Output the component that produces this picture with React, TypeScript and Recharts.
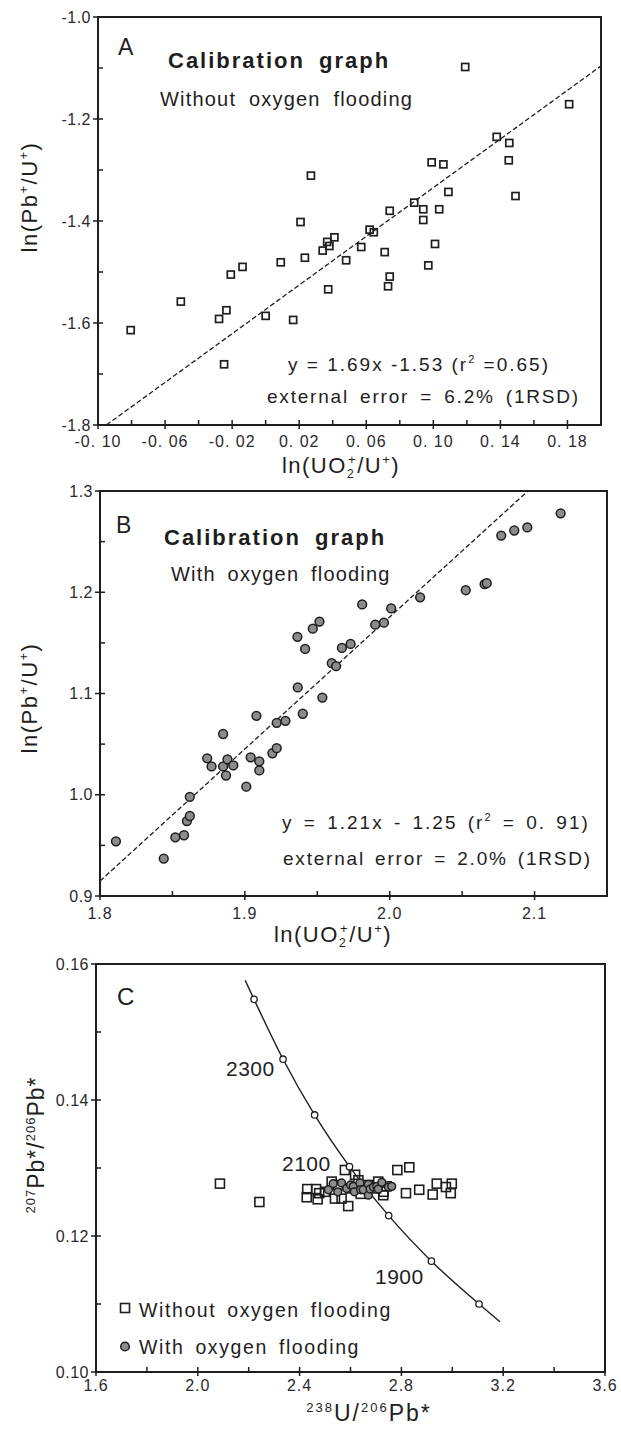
import React from 'react';
import {
  ScatterChart,
  ComposedChart,
  Scatter,
  Line,
  XAxis,
  YAxis,
  ReferenceLine,
  ReferenceArea,
  Customized,
} from 'recharts';

const FONT = '"Liberation Sans", Arial, Helvetica, sans-serif';
const INK = '#1e1e1e';
const TICK_INK = '#2a2a2a';

// ---------------- Panel A: without oxygen flooding ----------------
const withoutO2A = [
  { x: -0.0805, y: -1.614 }, { x: -0.0506, y: -1.558 }, { x: -0.0278, y: -1.592 },
  { x: -0.0234, y: -1.575 }, { x: -0.0248, y: -1.681 }, { x: -0.0208, y: -1.505 },
  { x: -0.0138, y: -1.49 }, { x: 0.0, y: -1.586 }, { x: 0.009, y: -1.481 },
  { x: 0.0164, y: -1.594 }, { x: 0.0234, y: -1.472 }, { x: 0.0208, y: -1.402 },
  { x: 0.027, y: -1.311 }, { x: 0.034, y: -1.458 }, { x: 0.0367, y: -1.441 },
  { x: 0.038, y: -1.449 }, { x: 0.041, y: -1.432 }, { x: 0.048, y: -1.477 },
  { x: 0.0373, y: -1.534 }, { x: 0.057, y: -1.451 }, { x: 0.062, y: -1.417 },
  { x: 0.0645, y: -1.422 }, { x: 0.071, y: -1.461 }, { x: 0.074, y: -1.38 },
  { x: 0.074, y: -1.509 }, { x: 0.073, y: -1.528 }, { x: 0.0886, y: -1.364 },
  { x: 0.094, y: -1.377 }, { x: 0.094, y: -1.398 }, { x: 0.1035, y: -1.377 },
  { x: 0.097, y: -1.487 }, { x: 0.101, y: -1.445 }, { x: 0.099, y: -1.285 },
  { x: 0.106, y: -1.289 }, { x: 0.109, y: -1.343 }, { x: 0.119, y: -1.098 },
  { x: 0.1378, y: -1.235 }, { x: 0.1453, y: -1.247 }, { x: 0.145, y: -1.281 },
  { x: 0.149, y: -1.351 }, { x: 0.181, y: -1.171 },
];
const fitLineA = [{ x: -0.095, y: -1.8 }, { x: 0.2, y: -1.096 }];
const xDomainA = [-0.1, 0.2];
const yDomainA = [-1.8, -1.0];
const xMajorA = [-0.1, -0.06, -0.02, 0.02, 0.06, 0.1, 0.14, 0.18];
const xTickLabelsA = ['-0. 10', '-0. 06', '-0. 02', '0. 02', '0. 06', '0. 10', '0. 14', '0. 18'];
const xMinorA = [-0.08, -0.04, 0.0, 0.04, 0.08, 0.12, 0.16];
const yMajorA = [-1.8, -1.6, -1.4, -1.2, -1.0];
const yTickLabelsA = ['-1.8', '-1.6', '-1.4', '-1.2', '-1.0'];
const yMinorA = [-1.7, -1.5, -1.3, -1.1];

// ---------------- Panel B: with oxygen flooding ----------------
const withO2B = [
  { x: 1.811, y: 0.954 }, { x: 1.844, y: 0.937 }, { x: 1.852, y: 0.958 },
  { x: 1.858, y: 0.96 }, { x: 1.86, y: 0.974 }, { x: 1.862, y: 0.979 },
  { x: 1.862, y: 0.998 }, { x: 1.874, y: 1.036 }, { x: 1.877, y: 1.028 },
  { x: 1.885, y: 1.06 }, { x: 1.885, y: 1.028 }, { x: 1.888, y: 1.035 },
  { x: 1.887, y: 1.019 }, { x: 1.892, y: 1.029 }, { x: 1.901, y: 1.008 },
  { x: 1.904, y: 1.037 }, { x: 1.908, y: 1.078 }, { x: 1.91, y: 1.033 },
  { x: 1.91, y: 1.024 }, { x: 1.919, y: 1.041 }, { x: 1.922, y: 1.046 },
  { x: 1.922, y: 1.071 }, { x: 1.928, y: 1.073 }, { x: 1.94, y: 1.08 },
  { x: 1.9535, y: 1.096 }, { x: 1.9365, y: 1.106 }, { x: 1.9363, y: 1.156 },
  { x: 1.9416, y: 1.144 }, { x: 1.9469, y: 1.164 }, { x: 1.9515, y: 1.171 },
  { x: 1.96, y: 1.13 }, { x: 1.963, y: 1.127 }, { x: 1.967, y: 1.145 },
  { x: 1.973, y: 1.149 }, { x: 1.981, y: 1.188 }, { x: 1.99, y: 1.168 },
  { x: 1.996, y: 1.17 }, { x: 2.001, y: 1.184 }, { x: 2.021, y: 1.195 },
  { x: 2.0525, y: 1.202 }, { x: 2.0655, y: 1.208 }, { x: 2.067, y: 1.209 },
  { x: 2.077, y: 1.256 }, { x: 2.086, y: 1.261 }, { x: 2.095, y: 1.264 },
  { x: 2.118, y: 1.278 },
];
const fitLineB = [{ x: 1.8, y: 0.9148 }, { x: 2.0954, y: 1.3 }];
const xDomainB = [1.8, 2.15];
const yDomainB = [0.9, 1.3];
const xMajorB = [1.8, 1.9, 2.0, 2.1];
const xTickLabelsB = ['1.8', '1.9', '2.0', '2.1'];
const xMinorB = [1.85, 1.95, 2.05];
const yMajorB = [0.9, 1.0, 1.1, 1.2, 1.3];
const yTickLabelsB = ['0.9', '1.0', '1.1', '1.2', '1.3'];
const yMinorB = [0.95, 1.05, 1.15, 1.25];

// ---------------- Panel C: Tera-Wasserburg concordia ----------------
const withoutO2C = [
  { x: 2.087, y: 0.1277 }, { x: 2.242, y: 0.125 }, { x: 2.428, y: 0.1257 },
  { x: 2.43, y: 0.1269 }, { x: 2.465, y: 0.1269 }, { x: 2.471, y: 0.1254 },
  { x: 2.477, y: 0.1263 }, { x: 2.5, y: 0.1265 }, { x: 2.526, y: 0.128 },
  { x: 2.539, y: 0.1255 }, { x: 2.55, y: 0.1275 }, { x: 2.565, y: 0.1255 },
  { x: 2.578, y: 0.1297 }, { x: 2.591, y: 0.1244 }, { x: 2.6, y: 0.127 },
  { x: 2.618, y: 0.129 }, { x: 2.631, y: 0.1282 }, { x: 2.64, y: 0.1262 },
  { x: 2.67, y: 0.1275 }, { x: 2.7, y: 0.127 }, { x: 2.709, y: 0.128 },
  { x: 2.729, y: 0.126 }, { x: 2.73, y: 0.1265 }, { x: 2.742, y: 0.1273 },
  { x: 2.784, y: 0.1297 }, { x: 2.831, y: 0.1301 }, { x: 2.818, y: 0.1263 },
  { x: 2.87, y: 0.1268 }, { x: 2.923, y: 0.1261 }, { x: 2.939, y: 0.1277 },
  { x: 2.975, y: 0.1272 }, { x: 2.994, y: 0.1263 }, { x: 2.998, y: 0.1277 },
];
const withO2C = [
  { x: 2.513, y: 0.1268 }, { x: 2.532, y: 0.1277 }, { x: 2.55, y: 0.1265 },
  { x: 2.565, y: 0.1278 }, { x: 2.585, y: 0.127 }, { x: 2.6, y: 0.1275 },
  { x: 2.611, y: 0.1273 }, { x: 2.615, y: 0.1265 }, { x: 2.637, y: 0.1278 },
  { x: 2.64, y: 0.1268 }, { x: 2.65, y: 0.1268 }, { x: 2.67, y: 0.1276 },
  { x: 2.67, y: 0.126 }, { x: 2.677, y: 0.1269 }, { x: 2.69, y: 0.1272 },
  { x: 2.703, y: 0.1273 }, { x: 2.709, y: 0.1269 }, { x: 2.723, y: 0.1279 },
  { x: 2.749, y: 0.1272 }, { x: 2.762, y: 0.1273 },
];
const concordiaC = [
  { x: 2.186, y: 0.1576 }, { x: 2.221, y: 0.1548 }, { x: 2.335, y: 0.146 },
  { x: 2.459, y: 0.1378 }, { x: 2.596, y: 0.1302 }, { x: 2.75, y: 0.123 },
  { x: 2.918, y: 0.1163 }, { x: 3.105, y: 0.11 }, { x: 3.187, y: 0.1074 },
];
const ageMarkersC = [
  { x: 2.221, y: 0.1548 }, { x: 2.335, y: 0.146 }, { x: 2.459, y: 0.1378 },
  { x: 2.596, y: 0.1302 }, { x: 2.75, y: 0.123 }, { x: 2.918, y: 0.1163 },
  { x: 3.105, y: 0.11 },
];
const ageLabelsC = ['2300', '2100', '1900'];
const xDomainC = [1.6, 3.6];
const yDomainC = [0.1, 0.16];
const xMajorC = [1.6, 2.0, 2.4, 2.8, 3.2, 3.6];
const xTickLabelsC = ['1.6', '2.0', '2.4', '2.8', '3.2', '3.6'];
const xMinorC = [1.8, 2.2, 2.6, 3.0, 3.4];
const yMajorC = [0.1, 0.12, 0.14, 0.16];
const yTickLabelsC = ['0.10', '0.12', '0.14', '0.16'];
const yMinorC = [0.11, 0.13, 0.15];

// ---------------- helpers ----------------
const findIdx = (arr: number[], v: number) => arr.findIndex((m) => Math.abs(m - v) < 1e-9);

function makeXTick(majors: number[], labels: string[], offset: number) {
  return (props: any) => {
    const { x, y, payload } = props;
    const idx = findIdx(majors, payload.value);
    const major = idx >= 0;
    return (
      <g>
        <line x1={x} x2={x} y1={y - 5} y2={major ? y + 4 : y} stroke={INK} strokeWidth={1.5} />
        {major && (
          <text x={x} y={y + offset} textAnchor="middle" fontSize={16} fill={TICK_INK}
            fontFamily={FONT} letterSpacing={1}>
            {labels[idx]}
          </text>
        )}
      </g>
    );
  };
}

function makeYTick(majors: number[], labels: string[]) {
  return (props: any) => {
    const { x, y, payload } = props;
    const idx = findIdx(majors, payload.value);
    const major = idx >= 0;
    return (
      <g>
        <line x1={major ? x - 5 : x} x2={x + 5} y1={y} y2={y} stroke={INK} strokeWidth={1.5} />
        {major && (
          <text x={x - 7} y={y + 5.5} textAnchor="end" fontSize={16} fill={TICK_INK}
            fontFamily={FONT} letterSpacing={0.5}>
            {labels[idx]}
          </text>
        )}
      </g>
    );
  };
}

const squareShape = (size: number, sw: number) => (props: any) => {
  const { cx, cy } = props;
  return (
    <rect x={cx - size / 2} y={cy - size / 2} width={size} height={size}
      fill="none" stroke={INK} strokeWidth={sw} />
  );
};
const circleShape = (r: number) => (props: any) => {
  const { cx, cy } = props;
  return <circle cx={cx} cy={cy} r={r} fill="#8c8c8c" stroke={INK} strokeWidth={1.5} />;
};
const markerShape = (props: any) => {
  const { cx, cy } = props;
  return <circle cx={cx} cy={cy} r={3.2} fill="#fff" stroke={INK} strokeWidth={1.3} />;
};

const txt = { fontFamily: FONT, fill: INK } as const;
const SUP = 13;

// ---------------- annotations ----------------
const AnnotA = () => (
  <g>
    <text x={118} y={55} fontSize={23} {...txt}>A</text>
    <text x={168} y={68} fontSize={22} fontWeight="bold" letterSpacing={2} wordSpacing={6} {...txt}>
      Calibration graph
    </text>
    <text x={160} y={106} fontSize={20} letterSpacing={1.2} wordSpacing={6} {...txt}>
      Without oxygen flooding
    </text>
    <text x={288} y={371} fontSize={19} letterSpacing={2} {...txt}>
      y = 1.69x -1.53 (r<tspan fontSize={11} dy={-8}>2</tspan>
      <tspan dy={8}> =0.65)</tspan>
    </text>
    <text x={267} y={403} fontSize={19} letterSpacing={1.8} wordSpacing={4} {...txt}>
      external error = 6.2% (1RSD)
    </text>
    <text transform="rotate(-90, 37, 197)" x={37} y={197} textAnchor="middle" fontSize={22}
      letterSpacing={1.5} {...txt}>
      ln(Pb<tspan fontSize={SUP} dy={-9}>+</tspan>
      <tspan dy={9}>/U</tspan>
      <tspan fontSize={SUP} dy={-9}>+</tspan>
      <tspan dy={9}>)</tspan>
    </text>
    <text x={341} y={473} textAnchor="middle" fontSize={22} letterSpacing={1.5} {...txt}>
      ln(UO<tspan fontSize={12} dy={5}>2</tspan>
      <tspan fontSize={SUP} dx={-7} dy={-14}>+</tspan>
      <tspan dy={9}>/U</tspan>
      <tspan fontSize={SUP} dy={-9}>+</tspan>
      <tspan dy={9}>)</tspan>
    </text>
  </g>
);

const AnnotB = () => (
  <g>
    <text x={116} y={53} fontSize={23} {...txt}>B</text>
    <text x={164} y={65} fontSize={22} fontWeight="bold" letterSpacing={2} wordSpacing={6} {...txt}>
      Calibration graph
    </text>
    <text x={171} y={101} fontSize={20} letterSpacing={1.2} wordSpacing={5} {...txt}>
      With oxygen flooding
    </text>
    <text x={282} y={349} fontSize={19} letterSpacing={2} wordSpacing={3} {...txt}>
      y = 1.21x - 1.25  (r<tspan fontSize={11} dy={-8}>2</tspan>
      <tspan dy={8}> = 0. 91)</tspan>
    </text>
    <text x={283} y={385} fontSize={19} letterSpacing={1.8} wordSpacing={3} {...txt}>
      external error = 2.0% (1RSD)
    </text>
    <text transform="rotate(-90, 37, 218)" x={37} y={218} textAnchor="middle" fontSize={22}
      letterSpacing={1.5} {...txt}>
      ln(Pb<tspan fontSize={SUP} dy={-9}>+</tspan>
      <tspan dy={9}>/U</tspan>
      <tspan fontSize={SUP} dy={-9}>+</tspan>
      <tspan dy={9}>)</tspan>
    </text>
    <text x={333} y={462} textAnchor="middle" fontSize={22} letterSpacing={1.5} {...txt}>
      ln(UO<tspan fontSize={12} dy={5}>2</tspan>
      <tspan fontSize={SUP} dx={-7} dy={-14}>+</tspan>
      <tspan dy={9}>/U</tspan>
      <tspan fontSize={SUP} dy={-9}>+</tspan>
      <tspan dy={9}>)</tspan>
    </text>
  </g>
);

const AnnotC = () => (
  <g>
    <text x={117} y={55} fontSize={24} {...txt}>C</text>
    <text x={226} y={126} fontSize={21} letterSpacing={0.5} {...txt}>{ageLabelsC[0]}</text>
    <text x={282} y={221} fontSize={21} letterSpacing={0.5} {...txt}>{ageLabelsC[1]}</text>
    <text x={375} y={334} fontSize={21} letterSpacing={0.5} {...txt}>{ageLabelsC[2]}</text>
    <rect x={120.5} y={353.5} width={9} height={9} fill="none" stroke={INK} strokeWidth={1.6} />
    <text x={139} y={367} fontSize={19.5} letterSpacing={1.6} wordSpacing={4} {...txt}>
      Without oxygen flooding
    </text>
    <circle cx={125} cy={396.5} r={4.3} fill="#8c8c8c" stroke={INK} strokeWidth={1.5} />
    <text x={139} y={404} fontSize={19.5} letterSpacing={1.6} wordSpacing={4} {...txt}>
      With oxygen flooding
    </text>
    <text transform="rotate(-90, 44, 195)" x={44} y={195} textAnchor="middle" fontSize={23}
      letterSpacing={1} {...txt}>
      <tspan fontSize={13} dy={-9}>207</tspan>
      <tspan dy={9}>Pb*/</tspan>
      <tspan fontSize={13} dy={-9}>206</tspan>
      <tspan dy={9}>Pb*</tspan>
    </text>
    <text x={369} y={471} textAnchor="middle" fontSize={23} letterSpacing={2} {...txt}>
      <tspan fontSize={13} dy={-9}>238</tspan>
      <tspan dy={9}>U/</tspan>
      <tspan fontSize={13} dy={-9}>206</tspan>
      <tspan dy={9}>Pb*</tspan>
    </text>
  </g>
);

const sortNum = (a: number[]) => [...a].sort((p, q) => p - q);

function PanelA() {
  return (
    <ScatterChart width={621} height={480} margin={{ top: 17, right: 20, bottom: 5, left: 0 }}>
      <XAxis type="number" dataKey="x" domain={xDomainA} ticks={sortNum([...xMajorA, ...xMinorA])}
        interval={0} tickSize={0} tickMargin={0} height={50} axisLine={{ stroke: INK, strokeWidth: 2 }}
        tickLine={false} tick={makeXTick(xMajorA, xTickLabelsA, 22)} allowDataOverflow />
      <YAxis type="number" dataKey="y" domain={yDomainA} ticks={sortNum([...yMajorA, ...yMinorA])}
        interval={0} tickSize={0} tickMargin={0} width={98} axisLine={{ stroke: INK, strokeWidth: 2 }}
        tickLine={false} tick={makeYTick(yMajorA, yTickLabelsA)} allowDataOverflow />
      <ReferenceArea x1={xDomainA[0]} x2={xDomainA[1]} y1={yDomainA[0]} y2={yDomainA[1]}
        fill="none" fillOpacity={0} stroke={INK} strokeWidth={2} ifOverflow="visible" />
      <ReferenceLine segment={fitLineA} stroke={INK} strokeWidth={1.3} strokeDasharray="5 2.5"
        ifOverflow="visible" />
      <Scatter data={withoutO2A} shape={squareShape(7, 1.7)} isAnimationActive={false} />
      <Customized component={AnnotA} />
    </ScatterChart>
  );
}

function PanelB() {
  return (
    <ScatterChart width={621} height={470} margin={{ top: 11, right: 14, bottom: 4, left: 0 }}>
      <XAxis type="number" dataKey="x" domain={xDomainB} ticks={sortNum([...xMajorB, ...xMinorB])}
        interval={0} tickSize={0} tickMargin={0} height={50} axisLine={{ stroke: INK, strokeWidth: 2 }}
        tickLine={false} tick={makeXTick(xMajorB, xTickLabelsB, 23)} allowDataOverflow />
      <YAxis type="number" dataKey="y" domain={yDomainB} ticks={sortNum([...yMajorB, ...yMinorB])}
        interval={0} tickSize={0} tickMargin={0} width={100} axisLine={{ stroke: INK, strokeWidth: 2 }}
        tickLine={false} tick={makeYTick(yMajorB, yTickLabelsB)} allowDataOverflow />
      <ReferenceArea x1={xDomainB[0]} x2={xDomainB[1]} y1={yDomainB[0]} y2={yDomainB[1]}
        fill="none" fillOpacity={0} stroke={INK} strokeWidth={2} ifOverflow="visible" />
      <ReferenceLine segment={fitLineB} stroke={INK} strokeWidth={1.3} strokeDasharray="5 2.5"
        ifOverflow="visible" />
      <Scatter data={withO2B} shape={circleShape(4.4)} isAnimationActive={false} />
      <Customized component={AnnotB} />
    </ScatterChart>
  );
}

function PanelC() {
  return (
    <ComposedChart width={621} height={479} margin={{ top: 14, right: 16, bottom: 5, left: 0 }}>
      <XAxis type="number" dataKey="x" domain={xDomainC} ticks={sortNum([...xMajorC, ...xMinorC])}
        interval={0} tickSize={0} tickMargin={0} height={52} axisLine={{ stroke: INK, strokeWidth: 2 }}
        tickLine={false} tick={makeXTick(xMajorC, xTickLabelsC, 19)} allowDataOverflow />
      <YAxis type="number" dataKey="y" domain={yDomainC} ticks={sortNum([...yMajorC, ...yMinorC])}
        interval={0} tickSize={0} tickMargin={0} width={96} axisLine={{ stroke: INK, strokeWidth: 2 }}
        tickLine={false} tick={makeYTick(yMajorC, yTickLabelsC)} allowDataOverflow />
      <ReferenceArea x1={xDomainC[0]} x2={xDomainC[1]} y1={yDomainC[0]} y2={yDomainC[1]}
        fill="none" fillOpacity={0} stroke={INK} strokeWidth={2} ifOverflow="visible" />
      <Line data={concordiaC} dataKey="y" type="monotone" stroke={INK} strokeWidth={1.4}
        dot={false} activeDot={false} isAnimationActive={false} />
      <Scatter data={withoutO2C} shape={squareShape(9, 1.6)} isAnimationActive={false} />
      <Scatter data={withO2C} shape={circleShape(3.9)} isAnimationActive={false} />
      <Scatter data={ageMarkersC} shape={markerShape} isAnimationActive={false} />
      <Customized component={AnnotC} />
    </ComposedChart>
  );
}

export default function App() {
  return (
    <div style={{ position: 'absolute', left: 0, top: 0, width: 621, height: 1429, background: '#fff', overflow: 'hidden' }}>
      <div style={{ position: 'absolute', left: 0, top: 0 }}><PanelA /></div>
      <div style={{ position: 'absolute', left: 0, top: 480 }}><PanelB /></div>
      <div style={{ position: 'absolute', left: 0, top: 950 }}><PanelC /></div>
    </div>
  );
}
